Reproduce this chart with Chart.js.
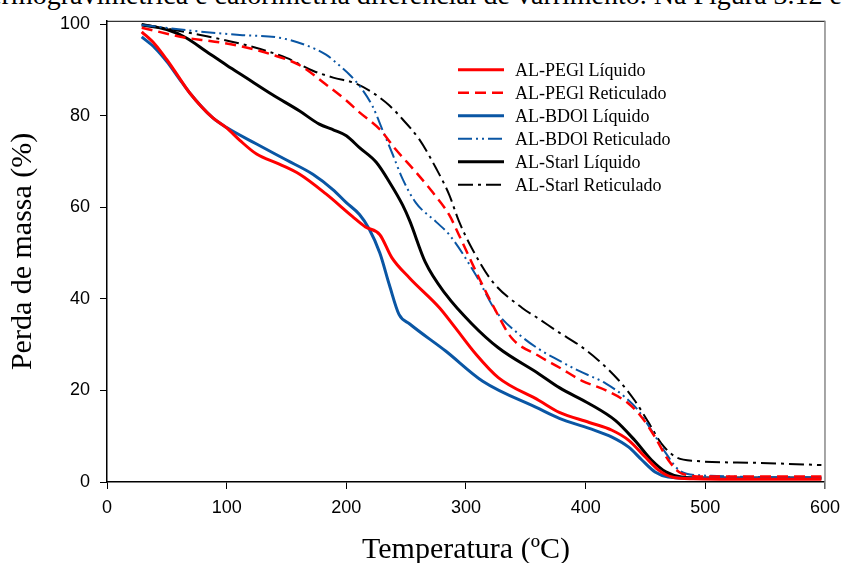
<!DOCTYPE html>
<html>
<head>
<meta charset="utf-8">
<script src="https://cdn.jsdelivr.net/npm/chart.js@4"></script>
<style>
  html, body { margin: 0; padding: 0; background: #fff; overflow: hidden; }
  #wrap { position: relative; width: 848px; height: 563px; }
  #topText {
    position: absolute; top: -19px; right: 6px; white-space: nowrap;
    font: 28px "Liberation Serif", serif; line-height: 28px; color: #000;
  }
  canvas { position: absolute; left: 0; top: 0; }
</style>
</head>
<body>
<div id="wrap">
  <div id="topText">termogravimétrica e calorimetria diferencial de varrimento. Na Figura 3.12 é</div>
  <canvas id="tgaChart" width="848" height="563"></canvas>
</div>
<script>
// Tick labels
const xTicks = [0, 100, 200, 300, 400, 500, 600];
const yTicks = [0, 20, 40, 60, 80, 100];

// Series names
const seriesNames = [
  'AL-PEGl Líquido', 'AL-PEGl Reticulado',
  'AL-BDOl Líquido', 'AL-BDOl Reticulado',
  'AL-Starl Líquido', 'AL-Starl Reticulado'
];

// Temperature (ºC) / mass (%)
const pegLiqT = [29, 40, 50, 60, 69, 88, 100, 111, 125, 144, 161, 183, 205, 216, 228, 238, 253, 278, 291, 308, 327, 361, 378, 403, 422, 436, 450, 461, 472, 490, 530, 597];
const pegLiqM = [98.3, 95.6, 92.2, 88.4, 85, 79.6, 77.3, 74.6, 71.6, 69.4, 67.2, 62.9, 58, 55.7, 54, 49, 44.5, 38, 33.7, 28, 22.8, 17.8, 15.2, 13, 11.3, 9.1, 5.4, 2.6, 1.1, 0.7, 0.6, 0.6];

const pegRetT = [29, 66, 86, 111, 138, 161, 183, 200, 211, 228, 241, 258, 272, 286, 294, 311, 325, 338, 361, 378, 397, 417, 436, 447, 458, 469, 480, 500, 597];
const pegRetM = [99.2, 97, 96.3, 95.2, 93.3, 91, 86.8, 83.3, 80.7, 77, 72.7, 67.7, 63.3, 58.3, 54, 44.5, 37.3, 31.5, 27.5, 25, 22.1, 20, 17.1, 14.1, 9.8, 4.8, 1.9, 1.2, 1.2];

const bdoLiqT = [29, 40, 50, 60, 69, 88, 100, 125, 150, 172, 189, 200, 211, 219, 228, 236, 244, 253, 283, 314, 361, 378, 403, 422, 436, 447, 458, 469, 490, 597];
const bdoLiqM = [97.2, 94.8, 91.8, 88.2, 85, 79.6, 77.4, 73.8, 70.3, 67.2, 63.8, 61, 58.4, 55.3, 50, 43, 36.6, 34.5, 28.6, 22, 16, 13.9, 11.7, 9.8, 7.6, 4.8, 2.2, 1.1, 0.8, 0.8];

const bdoRetT = [29, 72, 111, 144, 166, 183, 194, 204, 213, 222, 230, 238, 247, 258, 275, 286, 308, 325, 344, 361, 378, 394, 417, 433, 444, 455, 467, 478, 492, 597];
const bdoRetM = [99.8, 98.5, 97.6, 97, 95.4, 93.3, 91, 88.6, 85.8, 82, 77, 72, 66.2, 61, 56.8, 54, 45.3, 37.3, 32.3, 29, 26.5, 24.3, 21.5, 18.5, 15.6, 11.3, 6.3, 2.6, 1.5, 1.0];

const starLiqT = [29, 50, 66, 83, 100, 116, 138, 161, 177, 190, 200, 211, 225, 236, 247, 253, 266, 283, 305, 327, 361, 378, 403, 425, 441, 455, 467, 480, 500, 597];
const starLiqM = [99.8, 98.8, 97, 94, 91, 88.3, 84.6, 81, 78.2, 76.8, 75.6, 73, 69.8, 65.5, 60.5, 57, 48, 41, 34.5, 29.3, 23.6, 20.6, 17.1, 13.4, 9.1, 4.8, 2.2, 1.1, 0.9, 0.9];

const starRetT = [29, 78, 116, 150, 172, 189, 208, 222, 236, 247, 261, 275, 286, 294, 305, 322, 347, 361, 378, 394, 411, 428, 441, 453, 463, 475, 492, 540, 597];
const starRetM = [100, 97.6, 95.4, 92.6, 89.8, 88.3, 87, 85, 82.2, 79.2, 74.8, 68.5, 62.7, 57, 51, 43.8, 38, 35.6, 32.6, 30, 26.5, 22.1, 17.8, 12.8, 8.5, 5.5, 4.6, 4.2, 3.7];

const RED = '#ff0000';
const BLUE = '#0a56a4';
const BLACK = '#000000';

const toPoints = (xs, ys) => xs.map((x, i) => ({ x, y: ys[i] }));

const makeSet = (label, xs, ys, color, width, dash) => ({
  label,
  data: toPoints(xs, ys),
  borderColor: color,
  borderWidth: width,
  borderDash: dash,
  pointRadius: 0,
  fill: false,
  cubicInterpolationMode: 'monotone'
});

// Legend drawn inside the plot, top right
const innerLegend = {
  id: 'innerLegend',
  afterDatasetsDraw(chart) {
    const { ctx, chartArea } = chart;
    const x0 = chartArea.left + 351;
    const y0 = chartArea.top + 49;
    ctx.save();
    ctx.font = '18px "Liberation Serif", serif';
    ctx.textBaseline = 'middle';
    chart.data.datasets.forEach((ds, i) => {
      const y = y0 + i * 23;
      ctx.beginPath();
      ctx.strokeStyle = ds.borderColor;
      ctx.lineWidth = ds.borderWidth;
      ctx.setLineDash(ds.borderDash || []);
      ctx.moveTo(x0, y);
      ctx.lineTo(x0 + 46, y);
      ctx.stroke();
      ctx.setLineDash([]);
      ctx.fillStyle = '#000';
      ctx.fillText(ds.label, x0 + 57, y + 1);
    });
    ctx.restore();
  }
};

// Top and right frame lines
const frame = {
  id: 'frame',
  afterDraw(chart) {
    const { ctx, chartArea } = chart;
    ctx.save();
    ctx.strokeStyle = '#000';
    ctx.lineWidth = 1;
    ctx.beginPath();
    ctx.moveTo(chartArea.left, chartArea.top + 0.5);
    ctx.lineTo(chartArea.right, chartArea.top + 0.5);
    ctx.stroke();
    ctx.strokeStyle = '#888';
    ctx.lineWidth = 1.5;
    ctx.beginPath();
    ctx.moveTo(chartArea.right, chartArea.top);
    ctx.lineTo(chartArea.right, chartArea.bottom + 7);
    ctx.stroke();
    ctx.restore();
  }
};

new Chart(document.getElementById('tgaChart'), {
  type: 'line',
  data: {
    datasets: [
      makeSet(seriesNames[0], pegLiqT, pegLiqM, RED, 3, []),
      makeSet(seriesNames[1], pegRetT, pegRetM, RED, 2.5, [11, 6]),
      makeSet(seriesNames[2], bdoLiqT, bdoLiqM, BLUE, 3, []),
      makeSet(seriesNames[3], bdoRetT, bdoRetM, BLUE, 2, [14, 4, 2, 4, 2, 4]),
      makeSet(seriesNames[4], starLiqT, starLiqM, BLACK, 3, []),
      makeSet(seriesNames[5], starRetT, starRetM, BLACK, 2, [15, 5, 3, 5])
    ]
  },
  options: {
    responsive: false,
    animation: false,
    layout: { padding: { top: 18, right: 21, left: 0, bottom: 0 } },
    plugins: {
      legend: { display: false },
      tooltip: { enabled: false }
    },
    scales: {
      x: {
        type: 'linear',
        min: 0,
        max: 600,
        afterBuildTicks: (axis) => { axis.ticks = xTicks.map(v => ({ value: v })); },
        afterFit: (scale) => { scale.height = 81; },
        grid: { drawOnChartArea: false, drawTicks: true, tickLength: 7, tickColor: '#000' },
        border: { color: '#000', width: 1.5 },
        ticks: {
          color: '#000',
          padding: 8,
          maxRotation: 0,
          font: { family: '"Liberation Sans", Arial, sans-serif', size: 18 }
        },
        title: {
          display: true,
          text: 'Temperatura (ºC)',
          color: '#000',
          padding: { top: 0, bottom: 0 },
          font: { family: '"Liberation Serif", serif', size: 30, lineHeight: 0.85 }
        }
      },
      y: {
        min: 0,
        max: 100.7,
        afterBuildTicks: (axis) => { axis.ticks = yTicks.map(v => ({ value: v })); },
        afterFit: (scale) => { scale.width = 107; },
        grid: { drawOnChartArea: false, drawTicks: true, tickLength: 7, tickColor: '#000' },
        border: { color: '#000', width: 1.5 },
        ticks: {
          color: '#000',
          padding: 10,
          font: { family: '"Liberation Sans", Arial, sans-serif', size: 18 }
        },
        title: {
          display: true,
          text: 'Perda de massa (%)',
          color: '#000',
          padding: { top: 5, bottom: 0 },
          font: { family: '"Liberation Serif", serif', size: 30, lineHeight: 1.2 }
        }
      }
    }
  },
  plugins: [innerLegend, frame]
});
</script>
</body>
</html>
